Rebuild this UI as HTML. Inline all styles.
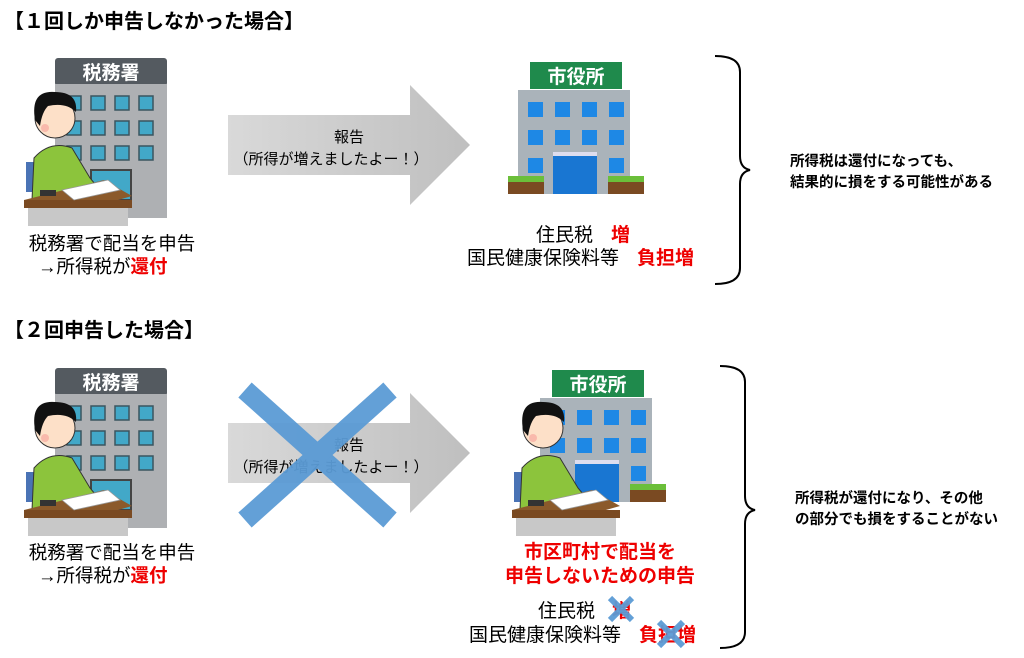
<!DOCTYPE html>
<html><head><meta charset="utf-8"><style>
html,body{margin:0;padding:0;background:#fff;}
svg{display:block;}
text{font-family:"Liberation Sans","Noto Sans CJK JP",sans-serif;}
</style></head><body>
<svg width="1024" height="658" viewBox="0 0 1024 658" xmlns="http://www.w3.org/2000/svg">
<defs>
<linearGradient id="ag" x1="0" y1="0" x2="1" y2="0">
<stop offset="0" stop-color="#d9d9d9"/><stop offset="1" stop-color="#bfbfbf"/>
</linearGradient>
<g id="person">
<rect x="26" y="122" width="14" height="30" fill="#4a73b5"/>
<path d="M32 160 L34 118 Q50 100 72 108 L90 138 L100 150 L92 158 Z" fill="#8cc43c" stroke="#333" stroke-width="1"/>
<circle cx="55" cy="78" r="20" fill="#fde0c8" stroke="#333" stroke-width="1"/>
<path d="M35 80 Q30 50 55 52 Q78 52 76 72 Q66 62 48 66 Q42 72 40 86 Z" fill="#111"/>
<circle cx="45" cy="88" r="4" fill="#f7a8a0" opacity=".7"/>
<polygon points="24,160 104,140 132,156 54,178" fill="#8b5a2b"/>
<rect x="24" y="160" width="108" height="8" fill="#7a4a22"/>
<rect x="28" y="168" width="100" height="18" fill="#c8c8c8"/>
<polygon points="62,150 108,140 120,150 74,160" fill="#fff" stroke="#999" stroke-width=".8"/>
<rect x="40" y="150" width="16" height="6" fill="#333"/>
</g>
<g id="taxoffice">
<rect x="55" y="58" width="112" height="28" rx="3" fill="#545a60"/>
<rect x="55" y="84" width="112" height="134" fill="#aeb0b3"/>
<g fill="#42a8c8" stroke="#3a5560" stroke-width="1.5">
<rect x="67" y="96" width="14" height="14"/><rect x="91" y="96" width="14" height="14"/><rect x="115" y="96" width="14" height="14"/><rect x="139" y="96" width="14" height="14"/>
<rect x="67" y="121" width="14" height="14"/><rect x="91" y="121" width="14" height="14"/><rect x="115" y="121" width="14" height="14"/><rect x="139" y="121" width="14" height="14"/>
<rect x="67" y="146" width="14" height="14"/><rect x="91" y="146" width="14" height="14"/><rect x="115" y="146" width="14" height="14"/><rect x="139" y="146" width="14" height="14"/>
</g>
<rect x="91" y="170" width="40" height="30" fill="#42a8c8" stroke="#444" stroke-width="2"/>
</g>
<g id="cityhall">
<rect x="22" y="0" width="92" height="27" fill="#1f8a4c"/>
<rect x="10" y="28" width="112" height="104" fill="#aab3ba"/>
<g fill="#1e88e5">
<rect x="20" y="40" width="15" height="15"/><rect x="47" y="40" width="15" height="15"/><rect x="74" y="40" width="15" height="15"/><rect x="101" y="40" width="15" height="15"/>
<rect x="20" y="68" width="15" height="15"/><rect x="47" y="68" width="15" height="15"/><rect x="74" y="68" width="15" height="15"/><rect x="101" y="68" width="15" height="15"/>
<rect x="20" y="96" width="15" height="15"/><rect x="101" y="96" width="15" height="15"/>
<rect x="45" y="92" width="44" height="40" fill="#1976d2"/>
</g>
<rect x="45" y="90" width="44" height="4" fill="#dde"/>
<rect x="0" y="118" width="36" height="14" fill="#7a4a22"/><rect x="0" y="114" width="36" height="6" fill="#6bbf3a"/>
<rect x="100" y="118" width="36" height="14" fill="#7a4a22"/><rect x="100" y="114" width="36" height="6" fill="#6bbf3a"/>
</g>
</defs>

<!-- Section 1 -->
<text x="4" y="28" font-size="20" font-weight="bold" fill="#000">【１回しか申告しなかった場合】</text>
<use href="#taxoffice"/>
<text x="111" y="79" font-size="19" font-weight="bold" fill="#fff" text-anchor="middle">税務署</text>
<use href="#person" x="0" y="40"/>
<text x="112" y="250" font-size="18.5" text-anchor="middle">税務署で配当を申告</text>
<text x="38" y="273" font-size="18.5">→所得税が<tspan fill="#e00" font-weight="bold">還付</tspan></text>

<polygon points="228,115 410,115 410,85 470,145 410,205 410,175 228,175" fill="url(#ag)"/>
<text x="349" y="142" font-size="15" text-anchor="middle">報告</text>
<text x="331" y="164" font-size="15" text-anchor="middle">（所得が増えましたよー！）</text>

<use href="#cityhall" x="508" y="62"/>
<text x="576" y="83" font-size="19" font-weight="bold" fill="#fff" text-anchor="middle">市役所</text>
<text x="536" y="241" font-size="19">住民税</text>
<text x="611" y="241" font-size="19" fill="#e00" font-weight="bold">増</text>
<text x="467" y="264" font-size="19">国民健康保険料等</text>
<text x="637" y="264" font-size="19" fill="#e00" font-weight="bold">負担増</text>

<path d="M715 56 Q740 56 740 72 L740 156 Q740 168 750 170 Q740 172 740 184 L740 268 Q740 284 715 284" fill="none" stroke="#000" stroke-width="2"/>
<text x="790" y="166" font-size="14.5" font-weight="bold">所得税は還付になっても、</text>
<text x="790" y="187" font-size="14.5" font-weight="bold">結果的に損をする可能性がある</text>

<!-- Section 2 -->
<text x="4" y="337" font-size="20" font-weight="bold" fill="#000">【２回申告した場合】</text>
<use href="#taxoffice" y="310"/>
<text x="111" y="389" font-size="19" font-weight="bold" fill="#fff" text-anchor="middle">税務署</text>
<use href="#person" x="0" y="350"/>
<text x="112" y="559" font-size="18.5" text-anchor="middle">税務署で配当を申告</text>
<text x="38" y="582" font-size="18.5">→所得税が<tspan fill="#e00" font-weight="bold">還付</tspan></text>

<polygon points="228,423 410,423 410,393 470,453 410,513 410,483 228,483" fill="url(#ag)"/>
<text x="349" y="450" font-size="15" text-anchor="middle">報告</text>
<text x="331" y="472" font-size="15" text-anchor="middle">（所得が増えましたよー！）</text>
<g stroke="#5b9bd5" stroke-width="20" stroke-linecap="butt" opacity=".95">
<line x1="245" y1="390" x2="390" y2="520"/>
<line x1="390" y1="390" x2="245" y2="520"/>
</g>

<use href="#cityhall" x="530" y="370"/>
<text x="598" y="391" font-size="19" font-weight="bold" fill="#fff" text-anchor="middle">市役所</text>
<use href="#person" x="488" y="350"/>
<text x="600" y="558" font-size="19" font-weight="bold" fill="#e00" text-anchor="middle">市区町村で配当を</text>
<text x="600" y="582" font-size="19" font-weight="bold" fill="#e00" text-anchor="middle">申告しないための申告</text>
<text x="538" y="617" font-size="19">住民税</text>
<text x="612" y="617" font-size="19" fill="#e00" font-weight="bold">増</text>
<text x="469" y="641" font-size="19">国民健康保険料等</text>
<text x="639" y="641" font-size="19" fill="#e00" font-weight="bold">負担増</text>
<g stroke="#5b9bd5" stroke-width="6" opacity=".95">
<line x1="610" y1="598" x2="632" y2="620"/><line x1="632" y1="598" x2="610" y2="620"/>
<line x1="659" y1="622" x2="683" y2="646"/><line x1="683" y1="622" x2="659" y2="646"/>
</g>

<path d="M720 366 Q745 366 745 382 L745 496 Q745 508 755 510 Q745 512 745 524 L745 632 Q745 648 720 648" fill="none" stroke="#000" stroke-width="2"/>
<text x="795" y="503" font-size="14.5" font-weight="bold">所得税が還付になり、その他</text>
<text x="795" y="524" font-size="14.5" font-weight="bold">の部分でも損をすることがない</text>
</svg>
</body></html>
